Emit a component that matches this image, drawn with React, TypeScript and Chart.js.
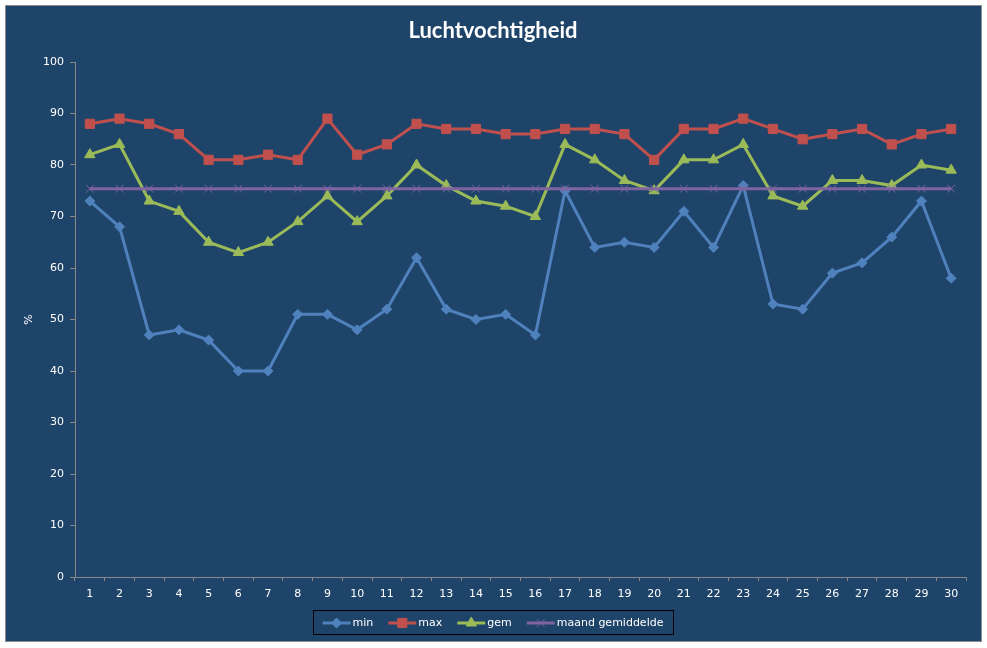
import { useEffect, useRef } from 'react';
import { Chart, registerables } from 'chart.js';
import { drawPoint } from 'chart.js/helpers';

Chart.register(...registerables);

const DAYS = ['1', '2', '3', '4', '5', '6', '7', '8', '9', '10', '11', '12', '13', '14', '15',
  '16', '17', '18', '19', '20', '21', '22', '23', '24', '25', '26', '27', '28', '29', '30'];
const MIN = [73, 68, 47, 48, 46, 40, 40, 51, 51, 48, 52, 62, 52, 50, 51, 47, 75, 64, 65, 64, 71, 64, 76, 53, 52, 59, 61, 66, 73, 58];
const MAX = [88, 89, 88, 86, 81, 81, 82, 81, 89, 82, 84, 88, 87, 87, 86, 86, 87, 87, 86, 81, 87, 87, 89, 87, 85, 86, 87, 84, 86, 87];
const GEM = [82, 84, 73, 71, 65, 63, 65, 69, 74, 69, 74, 80, 76, 73, 72, 70, 84, 81, 77, 75, 81, 81, 84, 74, 72, 77, 77, 76, 80, 79];
const MAAND_GEM = DAYS.map(() => 75.4);

const BG = '#1f4469';
const AXIS = '#888888';
const TEXT = '#ffffff';
const FONT = "'DejaVu Sans', Verdana, sans-serif";

const SERIES = [
  { label: 'min', data: MIN, color: '#4f81bd', style: 'rectRot', radius: 5, bw: 1 },
  { label: 'max', data: MAX, color: '#c0504d', style: 'rect', radius: 6.5, bw: 1 },
  { label: 'gem', data: GEM, color: '#9bbb59', style: 'triangle', radius: 6, bw: 1 },
  { label: 'maand gemiddelde', data: MAAND_GEM, color: '#8064a2', style: 'crossRot', radius: 5.5, bw: 1 },
];

// title + excel-style legend box drawn by hand
const decorPlugin = {
  id: 'decor',
  afterDraw(chart: any) {
    const ctx = chart.ctx;
    ctx.save();
    ctx.fillStyle = TEXT;
    ctx.font = "bold 22px Lato, 'Open Sans', sans-serif";
    ctx.textAlign = 'center';
    ctx.textBaseline = 'alphabetic';
    ctx.fillText('Luchtvochtigheid', 487, 32);

    // legend
    const boxX = 307, boxY = 604, boxW = 360, boxH = 24;
    ctx.strokeStyle = '#000000';
    ctx.lineWidth = 1;
    ctx.strokeRect(boxX + 0.5, boxY + 0.5, boxW, boxH);
    ctx.font = '11px ' + FONT;
    ctx.textAlign = 'left';
    ctx.textBaseline = 'middle';
    const lineLen = 28, textGap = 2, itemGap = 15;
    const widths = SERIES.map((s) => ctx.measureText(s.label).width);
    const total = widths.reduce((a, w) => a + lineLen + textGap + w, 0) + itemGap * (SERIES.length - 1);
    let x = boxX + (boxW - total) / 2;
    const cy = boxY + boxH / 2 + 1;
    SERIES.forEach((s, i) => {
      ctx.strokeStyle = s.color;
      ctx.lineWidth = 3;
      ctx.beginPath();
      ctx.moveTo(x, cy);
      ctx.lineTo(x + lineLen, cy);
      ctx.stroke();
      ctx.fillStyle = s.color;
      ctx.lineWidth = s.bw;
      drawPoint(ctx, { pointStyle: s.style, rotation: 0, radius: s.radius, borderWidth: s.bw } as any, x + lineLen / 2, cy);
      ctx.fillStyle = TEXT;
      ctx.fillText(s.label, x + lineLen + textGap, cy);
      x += lineLen + textGap + widths[i] + itemGap;
    });
    ctx.restore();
  },
};

function HumidityChart() {
  const ref = useRef<HTMLCanvasElement>(null);
  useEffect(() => {
    if (!ref.current) return;
    const c = new Chart(ref.current, {
      type: 'line',
      data: {
        labels: DAYS,
        datasets: SERIES.map((s, i) => ({
          label: s.label,
          data: s.data,
          borderColor: s.color,
          backgroundColor: s.color,
          borderWidth: 3,
          tension: 0,
          pointStyle: s.style as any,
          pointRadius: s.radius,
          pointBorderWidth: s.bw,
          order: SERIES.length - 1 - i,
        })),
      },
      options: {
        responsive: false,
        animation: false,
        layout: { padding: { left: 0, top: 56, right: 15, bottom: 24 } },
        scales: {
          x: {
            type: 'category',
            offset: true,
            afterFit: (s: any) => { s.height = 40; },
            grid: { display: true, drawOnChartArea: false, offset: true, tickLength: 4, color: AXIS },
            border: { color: AXIS, width: 1 },
            ticks: { color: TEXT, font: { family: FONT, size: 11 }, padding: 7, maxRotation: 0, autoSkip: false },
          },
          y: {
            min: 0,
            max: 100,
            afterFit: (s: any) => { s.width = 69; },
            grid: { display: true, drawOnChartArea: false, tickLength: 5, color: AXIS },
            border: { color: AXIS, width: 1 },
            ticks: { stepSize: 10, color: TEXT, font: { family: FONT, size: 11 }, padding: 6 },
            title: { display: true, text: '%', color: TEXT, font: { family: FONT, size: 11 }, padding: { top: 17, bottom: 0 } },
          },
        },
        plugins: {
          legend: { display: false },
          title: { display: false },
          tooltip: { enabled: false },
        },
      },
      plugins: [decorPlugin],
    });
    return () => c.destroy();
  }, []);
  return <canvas ref={ref} width={975} height={635} />;
}

export default function App() {
  return (
    <div style={{ position: 'absolute', left: 5, top: 5, width: 975, height: 635, background: BG, border: '1px solid #8c8c8c' }}>
      <HumidityChart />
    </div>
  );
}
